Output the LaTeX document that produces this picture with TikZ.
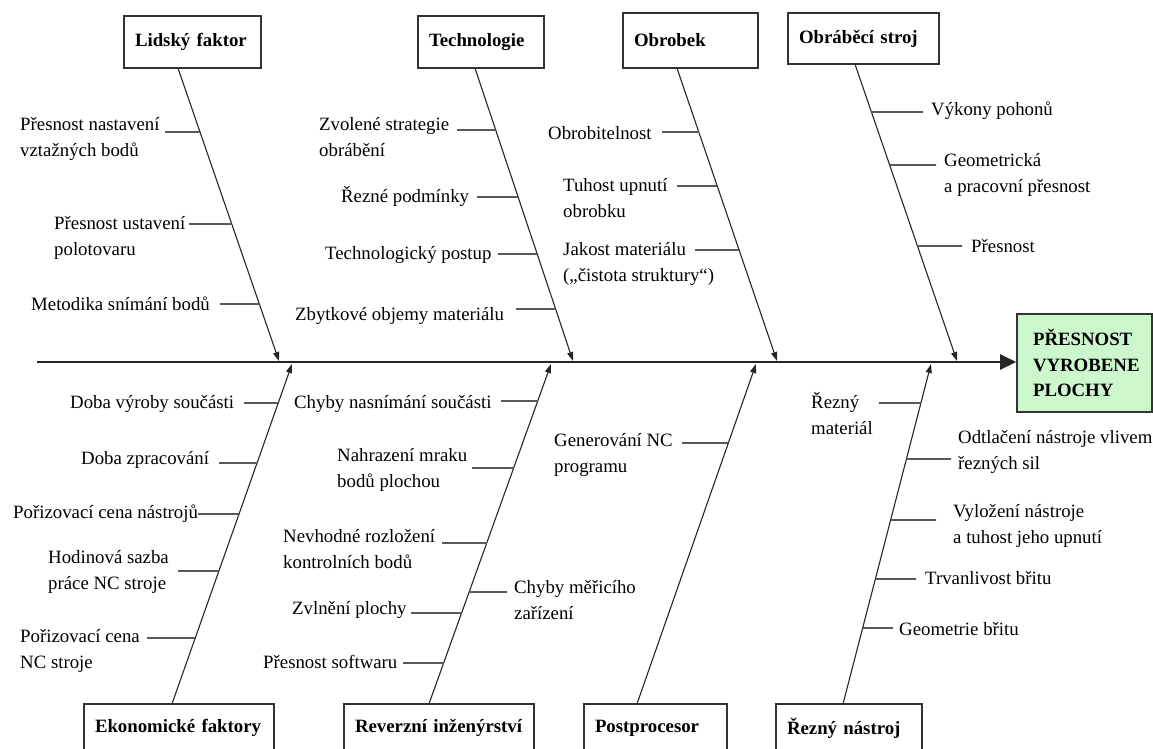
\documentclass[tikz,border=0pt]{standalone}
\usepackage{fontspec}
\setmainfont{Liberation Serif}
\usetikzlibrary{arrows.meta,calc}
\definecolor{headgreen}{RGB}{204,246,204}
\newcommand\lblfont{\fontsize{18.8}{26}\selectfont}
\newcommand\ttlfont{\fontsize{18.8}{26}\selectfont\bfseries}
\newcommand\tk[4]{\draw[tick] (#1,#2) -- (intersection cs: first line={(#3)--(#4)}, second line={(0,#2)--(1,#2)});}
\begin{document}
\begin{tikzpicture}[x=1pt,y=-1pt,
  lab/.style={font=\lblfont, inner sep=0pt, anchor=west, align=left},
  catbox/.style={draw=black!80, line width=1.6pt, font=\ttlfont, inner xsep=11pt, inner ysep=0pt, align=left, fill=white},
  bone/.style={line width=1.1pt, draw=black!85, -{Triangle[length=9pt,width=6pt]}},
  spine/.style={line width=2.4pt, draw=black!85, -{Triangle[length=16pt,width=15pt]}},
  tick/.style={line width=1.6pt, draw=black!65},
  headbox/.style={draw=black!80, line width=1.6pt, fill=headgreen, font=\fontsize{18.8}{25.5}\selectfont\bfseries, inner xsep=16pt, inner ysep=0pt, align=left}]
\useasboundingbox[fill=white] (0,0) rectangle (1153,749);

% category boxes (top)
\node[catbox, text width=115pt, minimum height=52pt] (lf) at (192.5,42) {\mbox{Lidský faktor}};
\node[catbox, text width=104pt, minimum height=52pt] (tech) at (481,42) {\mbox{Technologie}};
\node[catbox, text width=113pt, minimum height=55pt] (obr) at (690.5,40.5) {\mbox{Obrobek}};
\node[catbox, text width=129pt, minimum height=51pt] (stroj) at (863.5,38.5) {\mbox{Obráběcí stroj}};
% category boxes (bottom)
\node[catbox, text width=168pt, minimum height=48pt] (ek) at (179,728) {\mbox{Ekonomické faktory}};
\node[catbox, text width=168pt, minimum height=48pt] (rev) at (439,728) {\mbox{Reverzní inženýrství}};
\node[catbox, text width=121pt, minimum height=48pt] (post) at (655.5,728) {\mbox{Postprocesor}};
\node[catbox, text width=124pt, minimum height=48pt] (rez) at (849,728) {\mbox{Řezný nástroj}};

% head
\node[headbox, text width=103pt, minimum height=98pt] (head) at (1084.5,363) {\mbox{PŘESNOST}\\\mbox{VYROBENE}\\\mbox{PLOCHY}};

% spine
\coordinate (sp0) at (37,362);
\draw[spine] (sp0) -- (head.west |- sp0);

% bone endpoints
\coordinate (lfA) at ($(lf.south west)+(55,0)$);   \coordinate (lfB) at (279,361);
\coordinate (teA) at ($(tech.south west)+(58,0)$); \coordinate (teB) at (573,361);
\coordinate (obA) at ($(obr.south west)+(55,0)$);  \coordinate (obB) at (777,361);
\coordinate (stA) at ($(stroj.south west)+(68,0)$);\coordinate (stB) at (957,361);
\coordinate (ekA) at ($(ek.north west)+(89,0)$);   \coordinate (ekB) at (292,364);
\coordinate (reA) at ($(rev.north west)+(86,0)$);  \coordinate (reB) at (551,364);
\coordinate (poA) at ($(post.north west)+(54,0)$); \coordinate (poB) at (756,364);
\coordinate (rzA) at ($(rez.north west)+(68,0)$);  \coordinate (rzB) at (931,364);

\draw[bone] (lfA) -- (lfB);
\draw[bone] (teA) -- (teB);
\draw[bone] (obA) -- (obB);
\draw[bone] (stA) -- (stB);
\draw[bone] (ekA) -- (ekB);
\draw[bone] (reA) -- (reB);
\draw[bone] (poA) -- (poB);
\draw[bone] (rzA) -- (rzB);

% ticks
\tk{165}{132}{lfA}{lfB}
\tk{189}{224}{lfA}{lfB}
\tk{220}{304}{lfA}{lfB}
\tk{457}{130}{teA}{teB}
\tk{477}{197}{teA}{teB}
\tk{498}{254}{teA}{teB}
\tk{516}{309}{teA}{teB}
\tk{662}{132}{obA}{obB}
\tk{677}{186}{obA}{obB}
\tk{695}{250}{obA}{obB}
\tk{923}{112}{stA}{stB}
\tk{936}{165}{stA}{stB}
\tk{962}{246}{stA}{stB}
\tk{244}{403}{ekA}{ekB}
\tk{219}{463}{ekA}{ekB}
\tk{198}{514}{ekA}{ekB}
\tk{178}{571}{ekA}{ekB}
\tk{147}{638}{ekA}{ekB}
\tk{501}{401}{reA}{reB}
\tk{472}{468}{reA}{reB}
\tk{442}{543}{reA}{reB}
\tk{507}{592}{reA}{reB}
\tk{411}{613}{reA}{reB}
\tk{403}{663}{reA}{reB}
\tk{682}{443}{poA}{poB}
\tk{879}{403}{rzA}{rzB}
\tk{951}{459}{rzA}{rzB}
\tk{936}{520}{rzA}{rzB}
\tk{916}{579}{rzA}{rzB}
\tk{893}{628}{rzA}{rzB}

% labels
\node[lab] (l1) at (20,139) {Přesnost nastavení\\vztažných bodů};
\node[lab] (l2) at (54,238) {Přesnost ustavení\\polotovaru};
\node[lab] (l3) at (31,304) {Metodika snímání bodů};
\node[lab] (l4) at (319,137) {Zvolené strategie\\obrábění};
\node[lab] (l5) at (341,196) {Řezné podmínky};
\node[lab] (l6) at (325,255) {Technologický postup};
\node[lab] (l7) at (295,316) {Zbytkové objemy materiálu};
\node[lab] (l8) at (548,133) {Obrobitelnost};
\node[lab] (l9) at (563,198) {Tuhost upnutí\\obrobku};
\node[lab] (l10) at (563,264) {Jakost materiálu\\(„čistota struktury“)};
\node[lab] (l11) at (931,111) {Výkony pohonů};
\node[lab] (l12) at (944,175) {Geometrická\\a pracovní přesnost};
\node[lab] (l13) at (971,246) {Přesnost};
\node[lab] (l14) at (70,404) {Doba výroby součásti};
\node[lab] (l15) at (81,460) {Doba zpracování};
\node[lab] (l16) at (13,514) {Pořizovací cena nástrojů};
\node[lab] (l17) at (48,572) {Hodinová sazba\\práce NC stroje};
\node[lab] (l18) at (20,651) {Pořizovací cena\\NC stroje};
\node[lab] (l19) at (294,404) {Chyby nasnímání součásti};
\node[lab] (l20) at (337,470) {Nahrazení mraku\\bodů plochou};
\node[lab] (l21) at (283,549) {Nevhodné rozložení\\kontrolních bodů};
\node[lab] (l22) at (514,600) {Chyby měřicího\\zařízení};
\node[lab] (l23) at (292,610) {Zvlnění plochy};
\node[lab] (l24) at (263,662) {Přesnost softwaru};
\node[lab] (l25) at (554,455) {Generování NC\\programu};
\node[lab] (l26) at (811,414) {Řezný\\materiál};
\node[lab] (l27) at (958,452) {Odtlačení nástroje vlivem\\řezných sil};
\node[lab] (l28) at (953,526) {Vyložení nástroje\\a tuhost jeho upnutí};
\node[lab] (l29) at (925,578) {Trvanlivost břitu};
\node[lab] (l30) at (899,629) {Geometrie břitu};
\end{tikzpicture}
\end{document}
